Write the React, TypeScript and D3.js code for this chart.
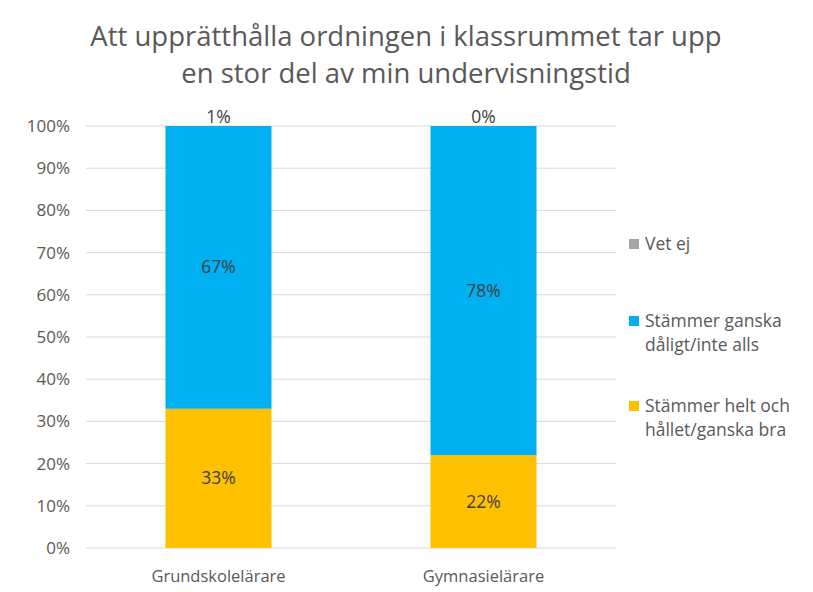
import React from "react";
import * as d3 from "d3";

const categories = ["Grundskolelärare", "Gymnasielärare"];
const seriesNames = ["Stämmer helt och hållet/ganska bra", "Stämmer ganska dåligt/inte alls", "Vet ej"];
const helt = [33, 22];
const daligt = [67, 78];
const vetEj = [1, 0];
const yTicks = [0, 10, 20, 30, 40, 50, 60, 70, 80, 90, 100];
const colors = ["#FFC000", "#00B0F0", "#A5A5A5"];
const legendLines = [["Vet ej"], ["Stämmer ganska", "dåligt/inte alls"], ["Stämmer helt och", "hållet/ganska bra"]];

const W = 813, H = 592;
const M = { left: 86, right: 197, top: 126, bottom: 44 };

export default function App() {
  const x = d3.scaleBand<string>().domain(categories).range([M.left, W - M.right]).paddingInner(0.6).paddingOuter(0.3);
  const y = d3.scaleLinear().domain([0, 100]).range([H - M.bottom, M.top]);
  const series = [helt, daligt, vetEj];
  const font = "'Open Sans', sans-serif";

  const rects: React.ReactNode[] = [];
  const labels: React.ReactNode[] = [];
  categories.forEach((c, i) => {
    let base = 0;
    series.forEach((s, k) => {
      const v = s[i];
      const lo = Math.min(base, 100);
      const hi = Math.min(base + v, 100);
      if (hi > lo) {
        rects.push(
          <rect key={`r${i}-${k}`} x={x(c)!} width={x.bandwidth()} y={y(hi)} height={y(lo) - y(hi)} fill={colors[k]} />
        );
      }
      const cx = x(c)! + x.bandwidth() / 2;
      const ly = hi > lo ? (y(lo) + y(hi)) / 2 + 6 : y(100) - 3;
      labels.push(
        <text key={`l${i}-${k}`} x={cx} y={ly} textAnchor="middle" fontSize={17.5} fill="#404040" fontFamily={font}>
          {`${v}%`}
        </text>
      );
      base += v;
    });
  });

  const legendY = [250, 327, 412];
  const legendOrder = [2, 1, 0];

  return (
    <svg width={W} height={H} style={{ position: "absolute", left: 0, top: 0 }}>
      <rect x={0} y={0} width={W} height={H} fill="#fff" />
      <text x={406} y={46} textAnchor="middle" fontSize={27.5} fill="#595959" fontFamily={font}>
        Att upprätthålla ordningen i klassrummet tar upp
      </text>
      <text x={406} y={83} textAnchor="middle" fontSize={27.5} fill="#595959" fontFamily={font}>
        en stor del av min undervisningstid
      </text>
      {yTicks.map((t) => (
        <g key={t}>
          <line x1={M.left} x2={W - M.right} y1={y(t)} y2={y(t)} stroke="#D9D9D9" strokeWidth={1} />
          <text x={70} y={y(t) + 6} textAnchor="end" fontSize={17} fill="#595959" fontFamily={font}>
            {`${t}%`}
          </text>
        </g>
      ))}
      {rects}
      {labels}
      {categories.map((c) => (
        <text key={c} x={x(c)! + x.bandwidth() / 2} y={582} textAnchor="middle" fontSize={16.5} fill="#595959" fontFamily={font}>
          {c}
        </text>
      ))}
      {legendOrder.map((k, j) => (
        <g key={seriesNames[k]}>
          <rect x={629} y={legendY[j] - 11} width={10} height={10} fill={colors[k]} />
          {legendLines[j].map((ln, li) => (
            <text key={li} x={645} y={legendY[j] + li * 24} fontSize={17.5} fill="#595959" fontFamily={font}>
              {ln}
            </text>
          ))}
        </g>
      ))}
    </svg>
  );
}
